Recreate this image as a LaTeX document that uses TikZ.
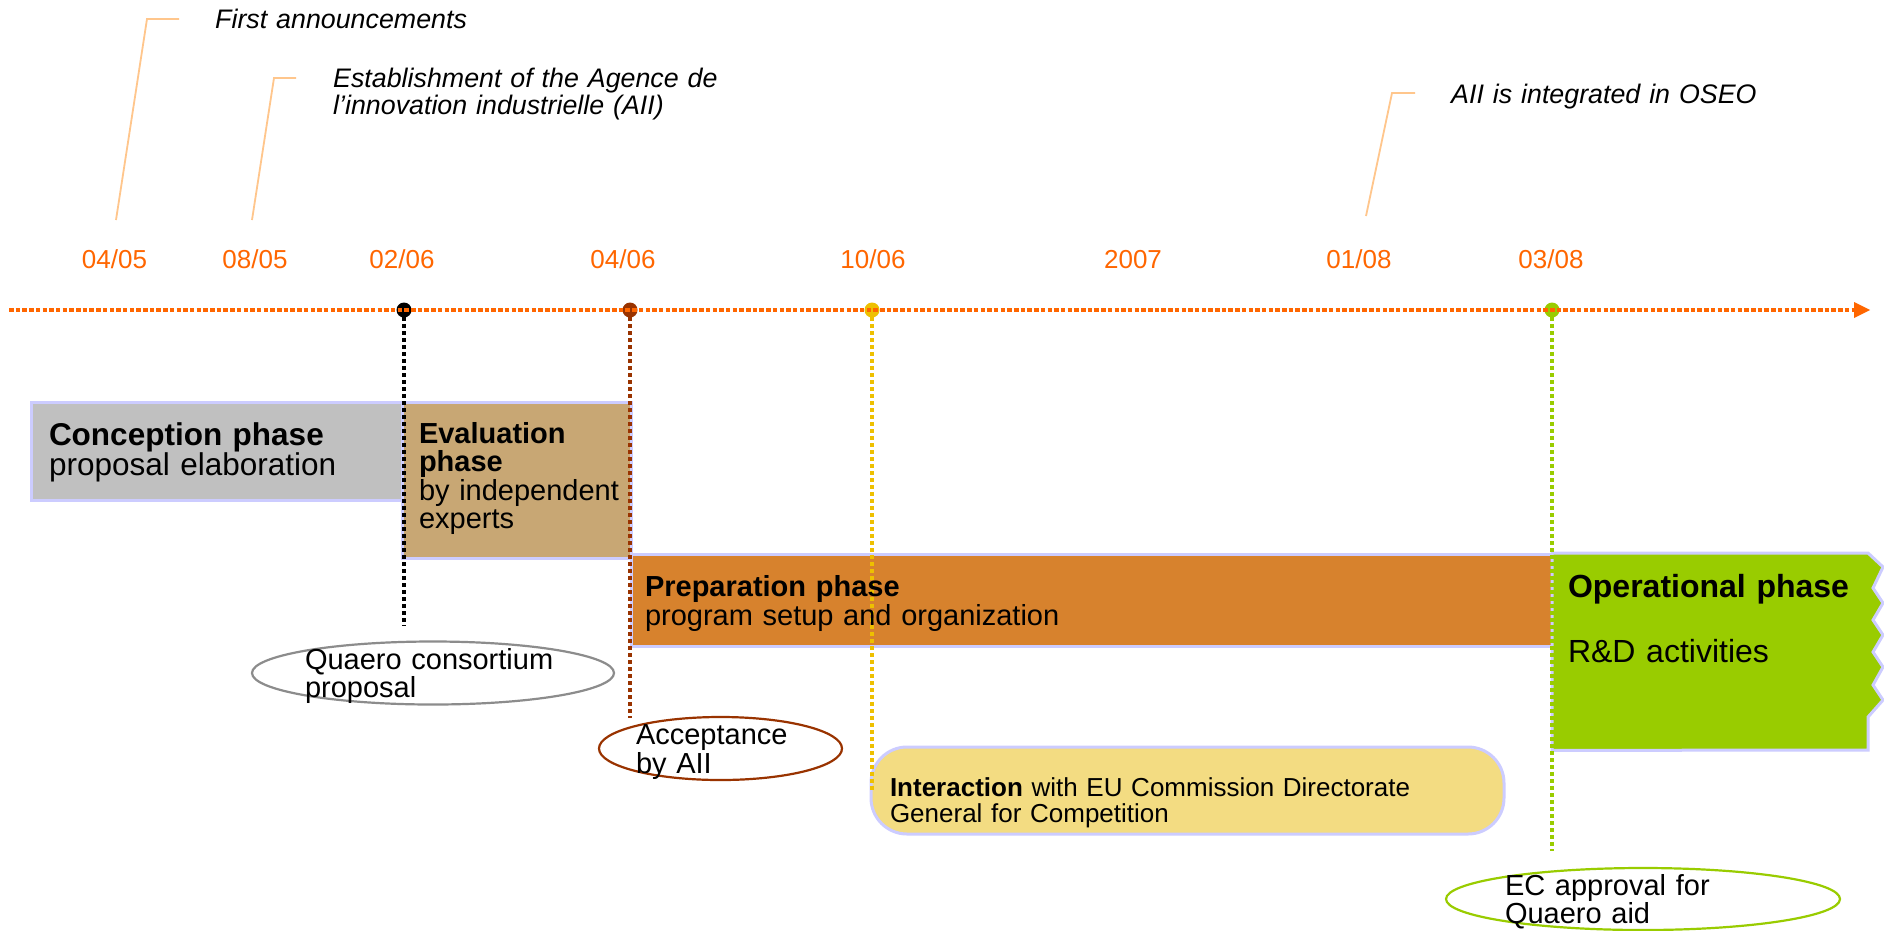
\documentclass[tikz,border=0pt]{standalone}
\usepackage{fontspec}
\setmainfont{Liberation Sans}
\usetikzlibrary{shapes.geometric}
\definecolor{tlorange}{HTML}{FF6600}
\definecolor{callout}{HTML}{FFC68C}
\definecolor{boxline}{HTML}{CCCCFF}
\definecolor{concfill}{HTML}{C0C0C0}
\definecolor{evalfill}{HTML}{C8A774}
\definecolor{prepfill}{HTML}{D7822D}
\definecolor{interfill}{HTML}{F3DC82}
\definecolor{operfill}{HTML}{99CC00}
\definecolor{brownc}{HTML}{993300}
\definecolor{yellowc}{HTML}{EEC000}
\definecolor{greenc}{HTML}{99CC00}
\definecolor{grayc}{HTML}{8C8C8C}
\newcommand\fsz[2]{\fontsize{#1}{#2}\selectfont}
\begin{document}
\begin{tikzpicture}[x=1pt,y=-1pt,
  phasebox/.style={draw=boxline, line width=3pt, anchor=north west, inner sep=0pt, outer sep=0pt},
  txt/.style={anchor=base west, inner sep=0pt, outer sep=0pt, align=left, text width=#1},
  datelbl/.style={anchor=base, inner sep=0pt, text=tlorange, font=\fsz{26}{26}},
  calltxt/.style={anchor=base west, inner sep=0pt, align=left, text width=500pt, font=\itshape\fsz{26.8}{27}},
  callline/.style={draw=callout, line width=1.8pt},
  vline/.style={line width=4pt, dash pattern=on 4pt off 3pt},
  tdot/.style={circle, inner sep=0pt, minimum width=15pt, minimum height=15pt},
  milestone/.style={ellipse, inner sep=0pt, line width=2.2pt}
]
\useasboundingbox (0,0) rectangle (1884,930);
\fill[white] (0,0) rectangle (1884,930);

% ---- phase boxes ----
\node[phasebox, fill=concfill, minimum width=371pt, minimum height=98pt] (conc) at (31,402) {};
\node[phasebox, fill=evalfill, minimum width=229pt, minimum height=156pt] (eval) at (402,402) {};
\node[phasebox, fill=prepfill, minimum width=921pt, minimum height=92pt] (prep) at (631,554) {};
\node[phasebox, fill=interfill, minimum width=633pt, minimum height=87pt, rounded corners=36pt] (inter) at (871,747) {};
\node[anchor=north west, inner sep=0pt, minimum width=316pt, minimum height=197pt] (oper) at (1552,553) {};
\draw[draw=boxline, line width=3pt, fill=operfill, line join=miter]
  (oper.north west) -- (1868,553) -- (1883,567) -- (1873,588) -- (1883,603) -- (1873,620)
  -- (1883,635) -- (1873,652) -- (1883,667) -- (1873,685) -- (1883,700) -- (1868,717)
  -- (1868,750) -- (oper.south west) -- cycle;

% ---- timeline dots ----
\node[tdot, fill=black] (d0206) at (404,310) {};
\node[tdot, fill=brownc] (d0406) at (630,310) {};
\node[tdot, fill=yellowc] (d1006) at (872,310) {};
\node[tdot, fill=greenc] (d0308) at (1552,310) {};

% ---- vertical dotted lines ----
\coordinate (e0206) at (404,626);
\coordinate (e0406) at (630,718);
\coordinate (e1006) at (872,790);
\coordinate (e0308) at (1552,851);
\draw[vline, draw=black] (d0206.center) -- (e0206);
\draw[vline, draw=brownc] (d0406.center) -- (e0406);
\draw[vline, draw=yellowc] (d1006.center) -- (e1006);
\draw[vline, draw=greenc] (d0308.center) -- (e0308);

% ---- timeline ----
\coordinate (tl0) at (9,310);
\coordinate (tl1) at (1856,310);
\coordinate (tltip) at (1870,310);
\draw[draw=tlorange, line width=3.2pt, dash pattern=on 4.5pt off 2.2pt] (tl0) -- (tl1);
\fill[tlorange] (1854,302) -- (tltip) -- (1854,318) -- cycle;

% ---- date labels ----
\node[datelbl] (l1) at (114.5,268) {04/05};
\node[datelbl] (l2) at (255,268) {08/05};
\node[datelbl] (l3) at (402,268) {02/06};
\node[datelbl] (l4) at (623,268) {04/06};
\node[datelbl] (l5) at (873,268) {10/06};
\node[datelbl] (l6) at (1133,268) {2007};
\node[datelbl] (l7) at (1359,268) {01/08};
\node[datelbl] (l8) at (1551,268) {03/08};

% ---- callouts ----
\node[calltxt] (c1) at (215,28) {First announcements};
\node[calltxt] (c2) at (333,87) {Establishment of the Agence de\\l’innovation industrielle (AII)};
\node[calltxt] (c3) at (1451,103) {AII is integrated in OSEO};
\coordinate (c1a) at (116,220); \coordinate (c1b) at (147,19); \coordinate (c1c) at (179,19);
\coordinate (c2a) at (252,220); \coordinate (c2b) at (274,78); \coordinate (c2c) at (296,78);
\coordinate (c3a) at (1366,216); \coordinate (c3b) at (1392,93); \coordinate (c3c) at (1415,93);
\draw[callline] (c1a) -- (c1b) -- (c1c);
\draw[callline] (c2a) -- (c2b) -- (c2c);
\draw[callline] (c3a) -- (c3b) -- (c3c);

% ---- milestone ellipses ----
\node[milestone, draw=grayc, minimum width=362pt, minimum height=63pt] (quaero) at (433,673) {};
\node[milestone, draw=brownc, minimum width=243pt, minimum height=63pt] (accept) at (720.5,748.5) {};
\node[milestone, draw=greenc, minimum width=394pt, minimum height=62pt] (ecapp) at (1643,899) {};

% ---- texts ----
\node[txt=400pt, font=\fsz{31.5}{30}] (tconc) at (49,445) {\textbf{Conception phase}\\proposal elaboration};
\node[txt=260pt, font=\fsz{29}{28.5}] (teval) at (419,443) {\textbf{Evaluation}\\\textbf{phase}\\by independent\\experts};
\node[txt=600pt, font=\fsz{29}{29}] (tprep) at (645,596) {\textbf{Preparation phase}\\program setup and organization};
\node[txt=320pt, font=\fsz{32}{65}] (toper) at (1568,597) {\textbf{Operational phase}\\R\&D activities};
\node[txt=620pt, font=\fsz{26}{26}] (tinter) at (890,796) {\textbf{Interaction} with EU Commission Directorate\\General for Competition};
\node[txt=400pt, font=\fsz{29}{28}] (tquaero) at (305,669) {Quaero consortium\\proposal};
\node[txt=300pt, font=\fsz{29}{29}] (taccept) at (636,744) {Acceptance\\by AII};
\node[txt=360pt, font=\fsz{29}{28}] (tec) at (1505,895) {EC approval for\\Quaero aid};
\end{tikzpicture}
\end{document}
